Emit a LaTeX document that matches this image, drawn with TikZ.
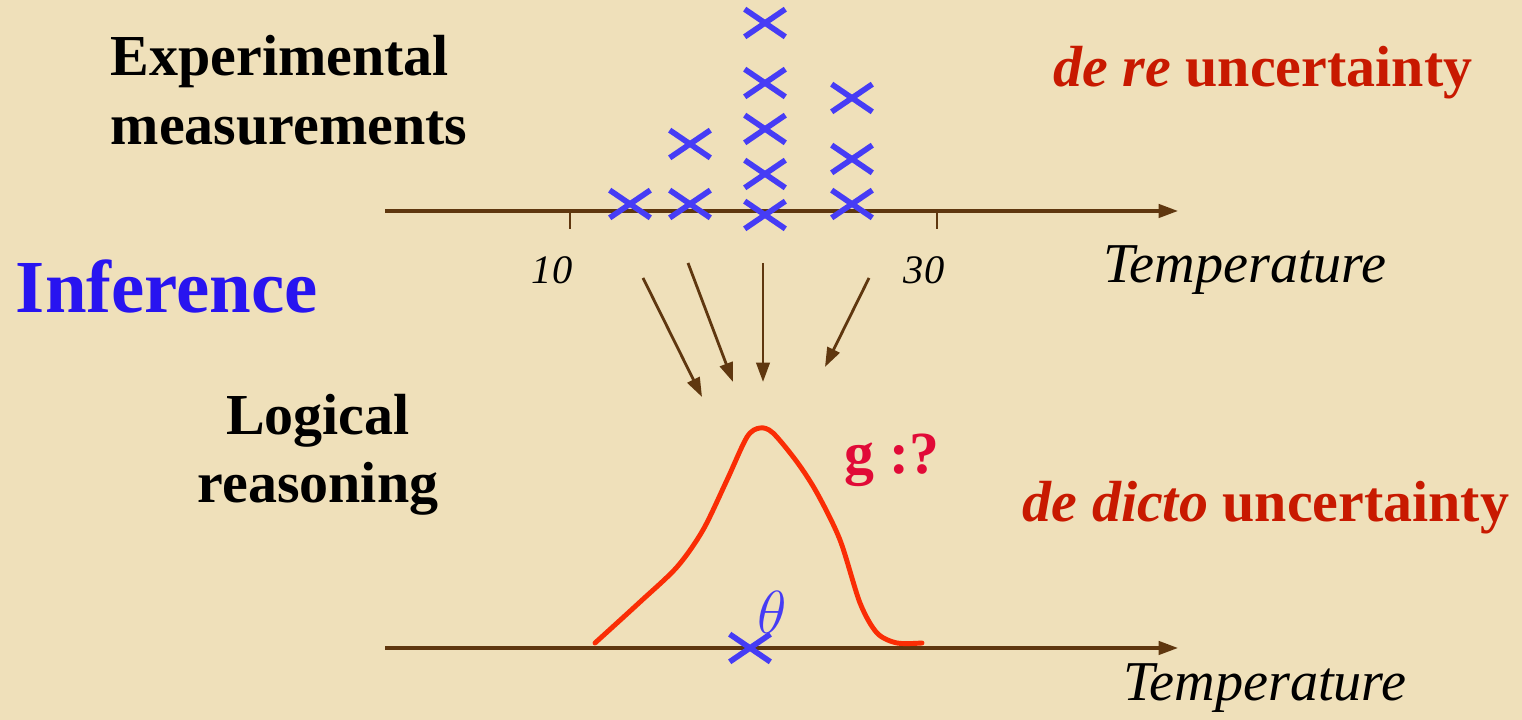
\documentclass[tikz,border=0pt]{standalone}
\usepackage{fontspec}
\setmainfont{Liberation Serif}
\usepackage{tikz}
\usetikzlibrary{arrows.meta, shapes.misc, positioning}
\definecolor{paper}{RGB}{239,224,186}
\definecolor{axisbrown}{RGB}{95,55,15}
\definecolor{crossblue}{RGB}{70,60,245}
\definecolor{curvered}{RGB}{250,45,5}
\definecolor{gred}{RGB}{225,10,55}
\definecolor{inkred}{RGB}{200,25,0}
\definecolor{inferblue}{RGB}{40,20,240}

\begin{document}
\begin{tikzpicture}[
    big/.style={font=\fontsize{16.5}{19.5}\selectfont\bfseries, align=center, inner sep=0pt},
    axlab/.style={font=\fontsize{16}{19}\selectfont\itshape, inner sep=0pt},
    ticklab/.style={font=\fontsize{11.5}{14}\selectfont\itshape, inner sep=0pt},
    unc/.style={font=\fontsize{16.5}{19.5}\selectfont\bfseries, text=inkred, inner sep=0pt},
    meas/.style={cross out, draw=crossblue, line width=1.6pt,
                 minimum width=0.35cm, minimum height=0.22cm, inner sep=0pt},
    axis/.style={-{Triangle[length=5.5pt,width=3.8pt]}, line width=0.9pt, color=axisbrown},
    flow/.style={-{Triangle[length=5.5pt,width=3.8pt]}, line width=0.8pt, color=axisbrown},
    tick/.style={line width=0.8pt, color=axisbrown}
]
\fill[paper] (0,0) rectangle (15.22,7.2);
\useasboundingbox (0,0) rectangle (15.22,7.2);

% left labels
\node[big, align=left, anchor=west] (exp) at (1.10, 6.30) {Experimental\\measurements};
\node[font=\fontsize{21.3}{25}\selectfont\bfseries, text=inferblue, inner sep=0pt]
    (inf) at (1.67, 4.33) {Inference};
\node[big] (log) at (3.18, 2.65) {Logical\\reasoning};

% right labels
\node[unc] (dere) at (12.63, 6.47) {\textit{de re} uncertainty};
\node[unc] (dedicto) at (12.66, 2.12) {\textit{de dicto} uncertainty};

% upper axis
\coordinate (a0) at (3.85, 5.09);
\coordinate (a1) at (11.78, 5.09);
\draw[axis] (a0) -- (a1);
\node[axlab] (temp1) at (12.45, 4.50) {Temperature};
\coordinate (k10) at (5.70, 5.09);
\coordinate (k30) at (9.37, 5.09);
\draw[tick] (k10) -- ++(0,-0.18);
\draw[tick] (k30) -- ++(0,-0.18);
\node[ticklab] (l10) at (5.52, 4.50) {10};
\node[ticklab] (l30) at (9.24, 4.50) {30};

% measurements
\foreach \x/\y [count=\i] in {6.30/5.16, 6.90/5.16, 6.90/5.76,
    7.65/5.05, 7.65/5.46, 7.65/5.91, 7.65/6.37, 7.65/6.97,
    8.52/5.16, 8.52/5.61, 8.52/6.22}
  \node[meas] (m\i) at (\x, \y) {};

% inference arrows
\foreach \sx/\sy/\tx/\ty [count=\i] in {6.43/4.42/7.02/3.23, 6.88/4.57/7.33/3.38,
    7.63/4.57/7.63/3.38, 8.69/4.42/8.25/3.53} {
  \coordinate (s\i) at (\sx, \sy);
  \coordinate (t\i) at (\tx, \ty);
  \draw[flow] (s\i) -- (t\i);
}

% lower axis
\coordinate (b0) at (3.85, 0.72);
\coordinate (b1) at (11.78, 0.72);
\draw[axis] (b0) -- (b1);
\node[axlab] (temp2) at (12.65, 0.32) {Temperature};

% distribution g
\draw[curvered, line width=1.4pt, line cap=round, line join=round]
  plot[smooth, tension=0.5] coordinates {(5.95,0.77) (6.40,1.18) (6.77,1.53)
    (7.03,1.90) (7.27,2.40) (7.47,2.83) (7.60,2.92) (7.73,2.87) (7.97,2.58)
    (8.17,2.27) (8.40,1.80) (8.60,1.17) (8.77,0.87) (8.97,0.77) (9.22,0.77)};
\node[font=\fontsize{17}{20}\selectfont\bfseries, text=gred, inner sep=0pt]
    (g) at (8.92, 2.60) {g :?};

% true value
\node[meas] (th) at (7.50, 0.72) {};
\node[font=\fontsize{17}{20}\selectfont, text=crossblue, inner sep=0pt]
    (thlab) at (7.72, 1.08) {$\theta$};
\end{tikzpicture}
\end{document}
